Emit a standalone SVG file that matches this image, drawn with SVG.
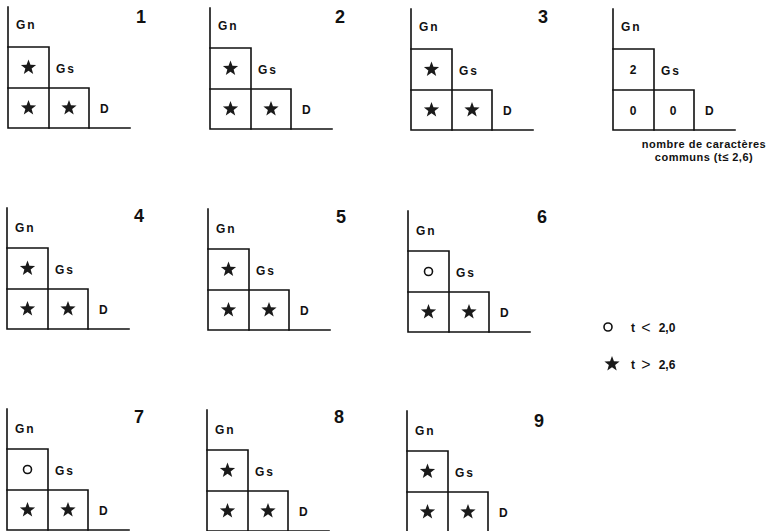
<svg xmlns="http://www.w3.org/2000/svg" xmlns:xlink="http://www.w3.org/1999/xlink" width="767" height="531" viewBox="0 0 767 531">
<style>
  .ln { fill: none; stroke: #111; stroke-width: 1.6; stroke-linecap: square; }
  .lbl { font-family: "Liberation Sans", Arial, sans-serif; font-weight: bold; font-size: 12px; fill: #111; letter-spacing: 2px; }
  .num { font-family: "Liberation Sans", Arial, sans-serif; font-weight: bold; font-size: 18px; fill: #111; text-anchor: middle; }
  .val { font-family: "Liberation Sans", Arial, sans-serif; font-weight: bold; font-size: 12px; fill: #111; text-anchor: middle; }
  .cap { font-family: "Liberation Sans", Arial, sans-serif; font-weight: bold; font-size: 11px; fill: #111; text-anchor: middle; letter-spacing: 0.5px; }
  .st { fill: #1a1a1a; }
  .ci { fill: none; stroke: #111; stroke-width: 1.6; }
</style>
<defs>
  <g id="frame">
    <path class="ln" d="M0,-40 V81 H122"/>
    <path class="ln" d="M0,0 H41 V81 M0,41 H81 V81"/>
  </g>
  <polygon id="star" class="st" points="0,-8 1.94,-2.67 7.61,-2.47 3.14,1.02 4.7,6.47 0,3.3 -4.7,6.47 -3.14,1.02 -7.61,-2.47 -1.94,-2.67"/>
  <circle id="circ" class="ci" r="4"/>
</defs>

<g id="panel1" transform="translate(8,47)">
  <use xlink:href="#frame"/>
  <text class="lbl" x="8" y="-18">Gn</text><text class="lbl" x="48" y="26">Gs</text><text class="lbl" x="92" y="66">D</text>
  <use xlink:href="#star" x="20.5" y="20.5"/><use xlink:href="#star" x="20.5" y="61"/><use xlink:href="#star" x="61" y="61"/>
  <text class="num" x="133" y="-24">1</text>
</g>
<g id="panel2" transform="translate(210,48)">
  <use xlink:href="#frame"/>
  <text class="lbl" x="8" y="-18">Gn</text><text class="lbl" x="48" y="26">Gs</text><text class="lbl" x="92" y="66">D</text>
  <use xlink:href="#star" x="20.5" y="20.5"/><use xlink:href="#star" x="20.5" y="61"/><use xlink:href="#star" x="61" y="61"/>
  <text class="num" x="130" y="-25">2</text>
</g>
<g id="panel3" transform="translate(411,49)">
  <use xlink:href="#frame"/>
  <text class="lbl" x="8" y="-18">Gn</text><text class="lbl" x="48" y="26">Gs</text><text class="lbl" x="92" y="66">D</text>
  <use xlink:href="#star" x="20.5" y="20.5"/><use xlink:href="#star" x="20.5" y="61"/><use xlink:href="#star" x="61" y="61"/>
  <text class="num" x="132" y="-26">3</text>
</g>
<g id="summary" transform="translate(613,49)">
  <use xlink:href="#frame"/>
  <text class="lbl" x="8" y="-18">Gn</text><text class="lbl" x="48" y="26">Gs</text><text class="lbl" x="92" y="66">D</text>
  <text class="val" x="20" y="25">2</text><text class="val" x="20" y="66">0</text><text class="val" x="60" y="66">0</text>
  <text class="cap" x="91" y="99">nombre de caractères</text>
  <text class="cap" x="91" y="112">communs (t≤ 2,6)</text>
</g>

<g id="panel4" transform="translate(7,248)">
  <use xlink:href="#frame"/>
  <text class="lbl" x="8" y="-16">Gn</text><text class="lbl" x="48" y="26">Gs</text><text class="lbl" x="92" y="66">D</text>
  <use xlink:href="#star" x="20.5" y="20.5"/><use xlink:href="#star" x="20.5" y="61"/><use xlink:href="#star" x="61" y="61"/>
  <text class="num" x="132" y="-26">4</text>
</g>
<g id="panel5" transform="translate(208,249)">
  <use xlink:href="#frame"/>
  <text class="lbl" x="8" y="-16">Gn</text><text class="lbl" x="48" y="26">Gs</text><text class="lbl" x="92" y="66">D</text>
  <use xlink:href="#star" x="20.5" y="20.5"/><use xlink:href="#star" x="20.5" y="61"/><use xlink:href="#star" x="61" y="61"/>
  <text class="num" x="133" y="-26">5</text>
</g>
<g id="panel6" transform="translate(408,251)">
  <use xlink:href="#frame"/>
  <text class="lbl" x="8" y="-16">Gn</text><text class="lbl" x="48" y="26">Gs</text><text class="lbl" x="92" y="66">D</text>
  <use xlink:href="#circ" x="20.5" y="20.5"/><use xlink:href="#star" x="20.5" y="61"/><use xlink:href="#star" x="61" y="61"/>
  <text class="num" x="134" y="-28">6</text>
</g>

<g id="legend">
  <use xlink:href="#circ" x="608" y="327"/>
  <text class="val" x="633" y="332">t</text>
  <text class="val" x="646" y="333" style="font-size:16px;font-weight:normal">&lt;</text>
  <text class="val" x="667" y="332">2,0</text>
  <use xlink:href="#star" x="612" y="364"/>
  <text class="val" x="633" y="369">t</text>
  <text class="val" x="646" y="370" style="font-size:16px;font-weight:normal">&gt;</text>
  <text class="val" x="667" y="369">2,6</text>
</g>

<g id="panel7" transform="translate(7,449)">
  <use xlink:href="#frame"/>
  <text class="lbl" x="8" y="-16">Gn</text><text class="lbl" x="48" y="26">Gs</text><text class="lbl" x="92" y="66">D</text>
  <use xlink:href="#circ" x="20.5" y="20.5"/><use xlink:href="#star" x="20.5" y="61"/><use xlink:href="#star" x="61" y="61"/>
  <text class="num" x="132" y="-26">7</text>
</g>
<g id="panel8" transform="translate(207,450)">
  <use xlink:href="#frame"/>
  <text class="lbl" x="8" y="-16">Gn</text><text class="lbl" x="48" y="26">Gs</text><text class="lbl" x="92" y="66">D</text>
  <use xlink:href="#star" x="20.5" y="20.5"/><use xlink:href="#star" x="20.5" y="61"/><use xlink:href="#star" x="61" y="61"/>
  <text class="num" x="132" y="-27">8</text>
</g>
<g id="panel9" transform="translate(407,451)">
  <use xlink:href="#frame"/>
  <text class="lbl" x="8" y="-16">Gn</text><text class="lbl" x="48" y="26">Gs</text><text class="lbl" x="92" y="66">D</text>
  <use xlink:href="#star" x="20.5" y="20.5"/><use xlink:href="#star" x="20.5" y="61"/><use xlink:href="#star" x="61" y="61"/>
  <text class="num" x="132" y="-24">9</text>
</g>
<g id="connectors"/>
</svg>
